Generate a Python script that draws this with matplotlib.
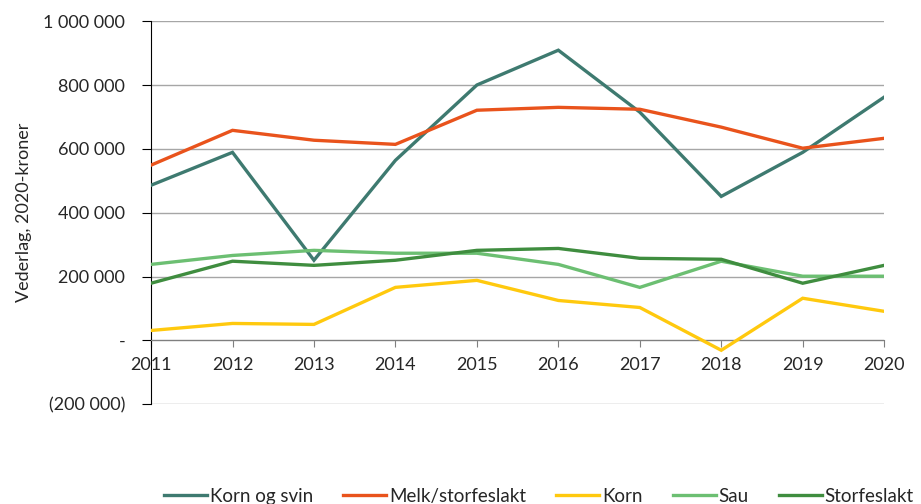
import numpy as np
import matplotlib.pyplot as plt
from matplotlib.ticker import FuncFormatter

plt.rcParams['font.family'] = ['Lato', 'DejaVu Sans']

years = [2011, 2012, 2013, 2014, 2015, 2016, 2017, 2018, 2019, 2020]
korn_og_svin = [486000, 589000, 251000, 564000, 800000, 909000, 715000, 451000, 589000, 762000]
melk_storfeslakt = [549000, 658000, 627000, 614000, 721000, 730000, 724000, 668000, 602000, 633000]
korn = [31000, 53000, 50000, 166000, 188000, 125000, 103000, -31000, 132000, 91000]
sau = [238000, 266000, 282000, 273000, 273000, 238000, 166000, 248000, 201000, 201000]
storfeslakt = [179000, 248000, 235000, 251000, 282000, 288000, 257000, 254000, 179000, 235000]

series = [
    ('Korn og svin', korn_og_svin, '#3e7a70'),
    ('Melk/storfeslakt', melk_storfeslakt, '#e9531c'),
    ('Korn', korn, '#ffc90e'),
    ('Sau', sau, '#6cbf72'),
    ('Storfeslakt', storfeslakt, '#3f8d3f'),
]

def fmt(v, pos):
    v = int(round(v))
    if v == 0:
        return '-'
    s = '{:,}'.format(abs(v)).replace(',', ' ')
    return '(' + s + ')' if v < 0 else s

fig = plt.figure(figsize=(9.21, 5.04), dpi=100)
ax = fig.add_axes([0.164, 0.198, 0.796, 0.760])

for name, vals, col in series:
    ax.plot(years, vals, color=col, lw=2.4, label=name, solid_joinstyle='miter', zorder=3)

ax.set_xlim(2011, 2020)
ax.set_ylim(-200000, 1000000)
ax.set_yticks(np.arange(-200000, 1000001, 200000))
ax.yaxis.set_major_formatter(FuncFormatter(fmt))
ax.grid(axis='y', color='#a6a6a6', lw=1, zorder=1)

for s in ['top', 'right']:
    ax.spines[s].set_visible(False)
ax.spines['bottom'].set_position(('data', 0))
ax.spines['bottom'].set_color('#7f7f7f')
ax.spines['left'].set_color('black')
ax.set_xticks(years)
ax.set_xticklabels([str(y) for y in years])
ax.tick_params(axis='x', direction='out', length=5, color='#7f7f7f', labelsize=13, pad=7, labelcolor='#262626')
ax.tick_params(axis='y', direction='out', length=6.5, color='black', labelsize=13, pad=12, labelcolor='#262626')
ax.set_ylabel('Vederlag, 2020-kroner', fontsize=13, color='#262626', labelpad=8)

fig.legend(loc='center', bbox_to_anchor=(0.585, 0.015), ncol=5, frameon=False,
           fontsize=13.5, handlelength=2.3, handletextpad=0.15, columnspacing=1.6,
           labelcolor='#262626')

fig.savefig('out.png', dpi=100)
